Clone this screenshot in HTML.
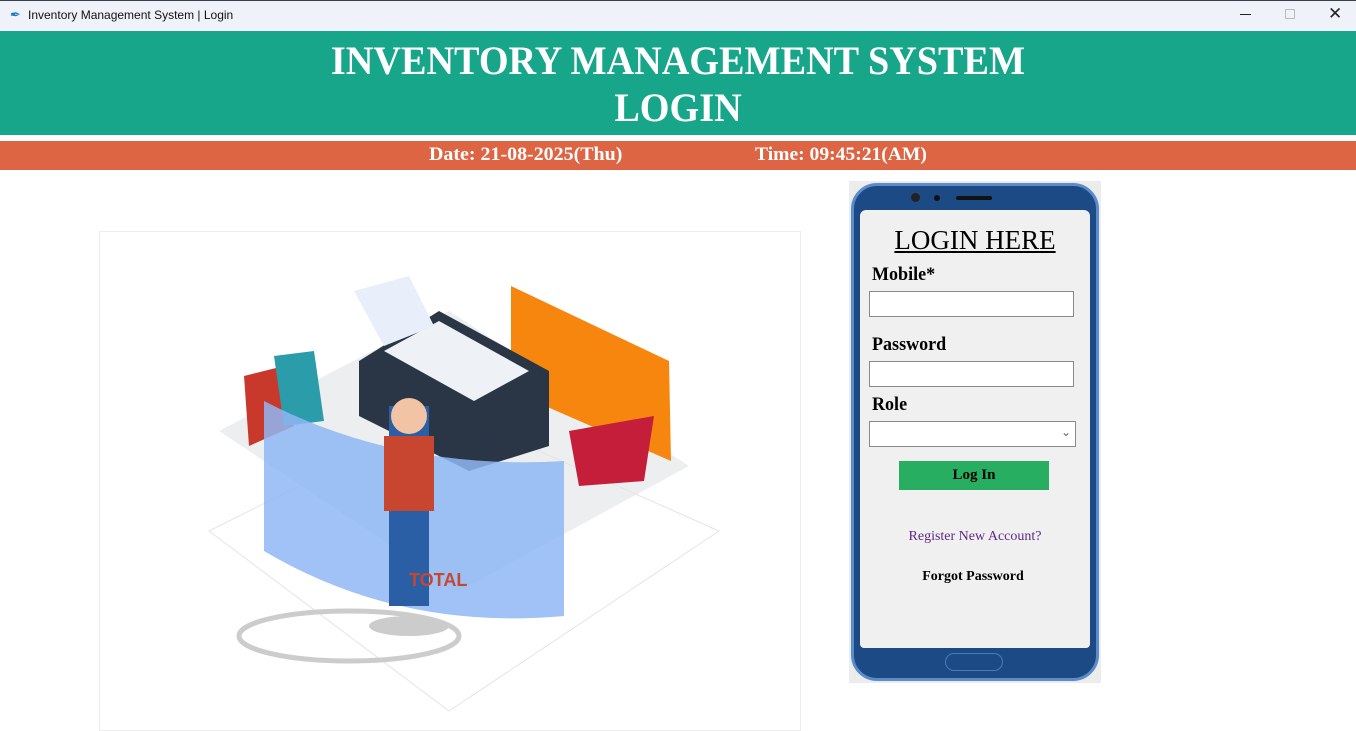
<!DOCTYPE html>
<html><head><meta charset="utf-8"><style>
*{margin:0;padding:0;box-sizing:border-box}
body{width:1356px;height:719px;position:relative;background:#fff;overflow:hidden;font-family:"Liberation Serif",serif}
.a{position:absolute}
.lbl{position:absolute;font-size:19px;color:#000;left:872px;font-weight:bold;transform:scaleX(0.95);transform-origin:left}
.inp{position:absolute;left:869px;width:205px;height:26px;background:#fff;border:1px solid #8a8a8a}
</style></head><body>
<div class="a" style="left:0;top:0;width:1356px;height:31px;background:#eff3f9;border-top:1px solid #3a3f4a"></div>
<div class="a" style="left:10px;top:7px;font-size:13px;color:#1976d2">&#x2712;</div>
<div class="a" style="left:28px;top:8px;font:12px 'Liberation Sans',sans-serif;color:#111">Inventory Management System | Login</div>
<div class="a" style="left:1240px;top:14px;width:11px;height:1px;background:#222"></div>
<div class="a" style="left:1285px;top:9px;width:10px;height:10px;border:1px solid #bbb"></div>
<div class="a" style="left:1328px;top:4px;font:17px 'Liberation Sans',sans-serif;color:#222">&#x2715;</div>

<div class="a" style="left:0;top:31px;width:1356px;height:104px;background:#17a689"></div>
<div class="a" style="left:0;top:37px;width:1356px;text-align:center;color:#fff;font-size:40px;font-weight:bold;line-height:47px;transform:scaleX(0.955)">INVENTORY MANAGEMENT SYSTEM<br>LOGIN</div>
<div class="a" style="left:0;top:141px;width:1356px;height:29px;background:#dd6543"></div>
<div class="a" style="left:429px;top:144px;color:#fff;font-size:19px;font-weight:bold;transform:scaleX(1.05);transform-origin:left">Date: 21-08-2025(Thu)</div>
<div class="a" style="left:755px;top:144px;color:#fff;font-size:19px;font-weight:bold;transform:scaleX(1.03);transform-origin:left">Time: 09:45:21(AM)</div>

<div class="a" style="left:99px;top:231px;width:702px;height:500px;border:1px solid #eee"></div>
<svg class="a" style="left:99px;top:231px" width="702" height="488">
<polygon points="120,200 350,80 590,235 360,360" fill="#eceef0"/>
<polygon points="110,300 350,180 620,300 350,480" fill="none" stroke="#e4e4e4"/>
<ellipse cx="250" cy="405" rx="110" ry="25" fill="none" stroke="#ccc" stroke-width="5"/>
<polygon points="412,55 570,130 572,230 412,160" fill="#f7860e"/>
<polygon points="260,130 340,80 450,140 450,215 370,240 260,185" fill="#2a3645"/>
<polygon points="285,120 340,90 430,140 375,170" fill="#eef2f6"/>
<polygon points="255,60 310,45 335,95 285,115" fill="#e8eefa"/>
<polygon points="145,145 185,135 195,195 150,215" fill="#c8392b"/>
<polygon points="175,125 215,120 225,190 185,195" fill="#2b9caa"/>
<polygon points="470,200 555,185 545,250 480,255" fill="#c41e3a"/>
<path d="M165,170 Q300,240 465,230 L465,385 Q300,400 165,320 Z" fill="#8fb7f5" opacity="0.85"/>
<rect x="290" y="175" width="40" height="200" fill="#2b5fa5"/>
<circle cx="310" cy="185" r="18" fill="#f2c4a5"/>
<rect x="285" y="205" width="50" height="75" fill="#c8452f"/>
<ellipse cx="310" cy="395" rx="40" ry="10" fill="#ccc"/>
<text x="310" y="355" font-family="Liberation Sans" font-size="18" fill="#c8452f" font-weight="bold">TOTAL</text>
</svg>

<div class="a" style="left:849px;top:181px;width:252px;height:502px;background:#ececec"></div>
<div class="a" style="left:851px;top:183px;width:248px;height:498px;border-radius:26px;background:#1b4a85;border:3px solid #5a8ccc"></div>
<div class="a" style="left:911px;top:193px;width:9px;height:9px;border-radius:50%;background:#222"></div>
<div class="a" style="left:934px;top:195px;width:6px;height:6px;border-radius:50%;background:#111"></div>
<div class="a" style="left:956px;top:196px;width:36px;height:4px;border-radius:2px;background:#111"></div>
<div class="a" style="left:860px;top:210px;width:230px;height:438px;background:#f0f0f0;border-radius:6px 6px 4px 4px"></div>
<div class="a" style="left:945px;top:653px;width:58px;height:18px;border-radius:9px;border:1px solid #4a7ab8"></div>
<div class="a" style="left:860px;top:225px;width:230px;text-align:center;font-size:27px;text-decoration:underline">LOGIN HERE</div>
<div class="lbl" style="top:264px">Mobile*</div>
<div class="inp" style="top:291px"></div>
<div class="lbl" style="top:334px">Password</div>
<div class="inp" style="top:361px"></div>
<div class="lbl" style="top:394px">Role</div>
<div class="inp" style="top:421px;width:207px;height:26px"></div>
<div class="a" style="left:1061px;top:425px;font-size:12px;color:#666">&#x2304;</div>
<div class="a" style="left:899px;top:461px;width:150px;height:29px;background:#27ae60;text-align:center;font-size:15px;font-weight:bold;line-height:29px">Log In</div>
<div class="a" style="left:860px;top:529px;width:230px;text-align:center;font-size:14px;color:#5b2a86">Register New Account?</div>
<div class="a" style="left:860px;top:569px;width:226px;text-align:center;font-size:14px;color:#000;font-weight:bold">Forgot Password</div>
</body></html>
